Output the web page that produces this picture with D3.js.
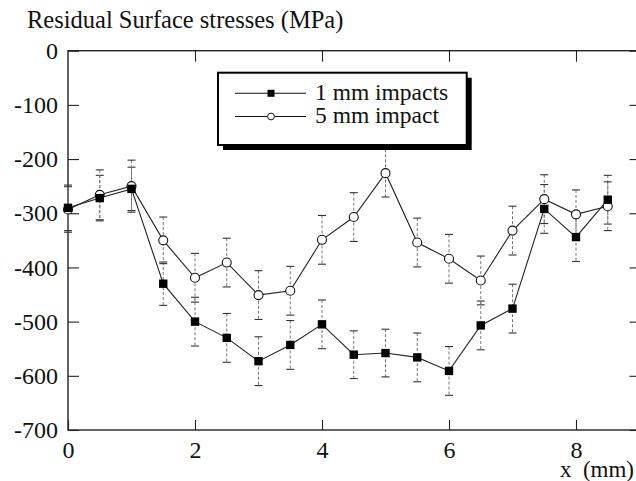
<!DOCTYPE html>
<html>
<head>
<meta charset="utf-8">
<script src="https://cdn.jsdelivr.net/npm/d3@7"></script>
<style>
  html, body { margin: 0; padding: 0; background: #fff; }
  svg { display: block; }
  text { font-family: "Liberation Serif", "Times New Roman", serif; fill: #111; }
</style>
</head>
<body>
<svg id="chart" width="636" height="481"></svg>
<script>
// ---- data ----
const xPositions = [0, 0.5, 1, 1.5, 2, 2.5, 3, 3.5, 4, 4.5, 5, 5.5, 6, 6.5, 7, 7.5, 8, 8.5];
const impacts1mm = [-290, -272, -255, -430, -500, -530, -573, -543, -505, -561, -558, -566, -591, -507, -476, -292, -344, -275];
const impact5mm  = [-293, -266, -250, -350, -419, -391, -451, -443, -349, -307, -226, -354, -384, -424, -332, -274, -302, -287];
const err1mm = [42, 42, 40, 40, 45, 45, 45, 45, 45, 44, 44, 45, 45, 45, 45, 45, 45, 45];
const err5mm = [42, 46, 48, 43, 45, 45, 45, 45, 45, 45, 44, 45, 45, 45, 45, 45, 45, 45];
const xTicks = [0, 2, 4, 6, 8];
const yTicks = [0, -100, -200, -300, -400, -500, -600, -700];
const seriesNames = ["1 mm impacts", "5 mm impact"];
const titleText = "Residual Surface stresses (MPa)";
const xLabelText = "x  (mm)";

// ---- layout ----
const svg = d3.select("#chart");
const x = d3.scaleLinear().domain([0, 9]).range([68, 639.5]);
const y = d3.scaleLinear().domain([-700, 0]).range([430, 50.7]);
const axisColor = "#222";

// frame
svg.append("rect")
  .attr("x", x(0)).attr("y", y(0))
  .attr("width", x(9) - x(0)).attr("height", y(-700) - y(0))
  .attr("fill", "none").attr("stroke", axisColor).attr("stroke-width", 1.4);

function styleAxis(g) {
  g.select(".domain").remove();
  g.selectAll(".tick line").attr("stroke", axisColor).attr("stroke-width", 1.1);
  g.selectAll(".tick text").attr("font-size", 24).attr("fill", "#111")
    .attr("font-family", '"Liberation Serif", "Times New Roman", serif');
}

svg.append("g").attr("transform", `translate(${x(0)},0)`)
  .call(d3.axisLeft(y).tickValues(yTicks).tickSize(-11).tickPadding(10).tickFormat(d => String(d)))
  .call(styleAxis);
svg.append("g").attr("transform", `translate(${x(9)},0)`)
  .call(d3.axisRight(y).tickValues(yTicks).tickSize(-10).tickFormat(""))
  .call(styleAxis);
svg.append("g").attr("transform", `translate(0,${y(-700)})`)
  .call(d3.axisBottom(x).tickValues(xTicks).tickSize(-10).tickPadding(11).tickFormat(d => String(d)))
  .call(styleAxis);
svg.append("g").attr("transform", `translate(0,${y(0)})`)
  .call(d3.axisTop(x).tickValues(xTicks.filter(d => d > 0)).tickSize(-11).tickFormat(""))
  .call(styleAxis);

// title and axis label
svg.append("text").attr("x", 27).attr("y", 28).attr("font-size", 24.5).text(titleText);
svg.append("text").attr("x", 634).attr("y", 477).attr("text-anchor", "end")
  .attr("font-size", 23).style("white-space", "pre").text(xLabelText);

// ---- series ----
const s1 = xPositions.map((xv, i) => ({ x: xv, y: impacts1mm[i], e: err1mm[i] }));
const s2 = xPositions.map((xv, i) => ({ x: xv, y: impact5mm[i], e: err5mm[i] }));
const line = d3.line().x(d => x(d.x)).y(d => y(d.y));

function errorBars(data) {
  const g = svg.append("g");
  g.selectAll("line.stem").data(data).join("line")
    .attr("x1", d => x(d.x)).attr("x2", d => x(d.x))
    .attr("y1", d => y(d.y + d.e)).attr("y2", d => y(d.y - d.e))
    .attr("stroke", "#777").attr("stroke-width", 1).attr("stroke-dasharray", "3,2");
  [1, -1].forEach(s => {
    g.selectAll("line.cap" + s).data(data).join("line")
      .attr("x1", d => x(d.x) - 4).attr("x2", d => x(d.x) + 4)
      .attr("y1", d => y(d.y + s * d.e)).attr("y2", d => y(d.y + s * d.e))
      .attr("stroke", "#333").attr("stroke-width", 1.1);
  });
}
errorBars(s1);
errorBars(s2);

svg.append("path").datum(s2).attr("d", line).attr("fill", "none").attr("stroke", "#222").attr("stroke-width", 1.1);
svg.append("path").datum(s1).attr("d", line).attr("fill", "none").attr("stroke", "#222").attr("stroke-width", 1.1);

svg.append("g").selectAll("circle").data(s2).join("circle")
  .attr("cx", d => x(d.x)).attr("cy", d => y(d.y)).attr("r", 4.5)
  .attr("fill", "#fff").attr("stroke", "#111").attr("stroke-width", 1.1);
svg.append("g").selectAll("rect").data(s1).join("rect")
  .attr("x", d => x(d.x) - 4.2).attr("y", d => y(d.y) - 4.2)
  .attr("width", 8.4).attr("height", 8.4).attr("fill", "#000");

// ---- legend ----
const lg = svg.append("g");
const lx = 218, ly = 72.7, lw = 248.7, lh = 72.3;
lg.append("rect").attr("x", lx + 5).attr("y", ly + 5).attr("width", lw).attr("height", lh).attr("fill", "#000");
lg.append("rect").attr("x", lx).attr("y", ly).attr("width", lw).attr("height", lh)
  .attr("fill", "#fff").attr("stroke", "#000").attr("stroke-width", 2);
const legendRows = [93.3, 116.5];
seriesNames.forEach((name, i) => {
  const yy = legendRows[i];
  lg.append("line").attr("x1", 235).attr("x2", 306).attr("y1", yy).attr("y2", yy)
    .attr("stroke", "#111").attr("stroke-width", 1.1);
  if (i === 0) {
    lg.append("rect").attr("x", 271 - 3.5).attr("y", yy - 3.5).attr("width", 7).attr("height", 7).attr("fill", "#000");
  } else {
    lg.append("circle").attr("cx", 271).attr("cy", yy).attr("r", 3.4)
      .attr("fill", "#fff").attr("stroke", "#111").attr("stroke-width", 1);
  }
  lg.append("text").attr("x", 315).attr("y", yy + 6.2).attr("font-size", 23.5).text(name);
});
</script>
</body>
</html>
